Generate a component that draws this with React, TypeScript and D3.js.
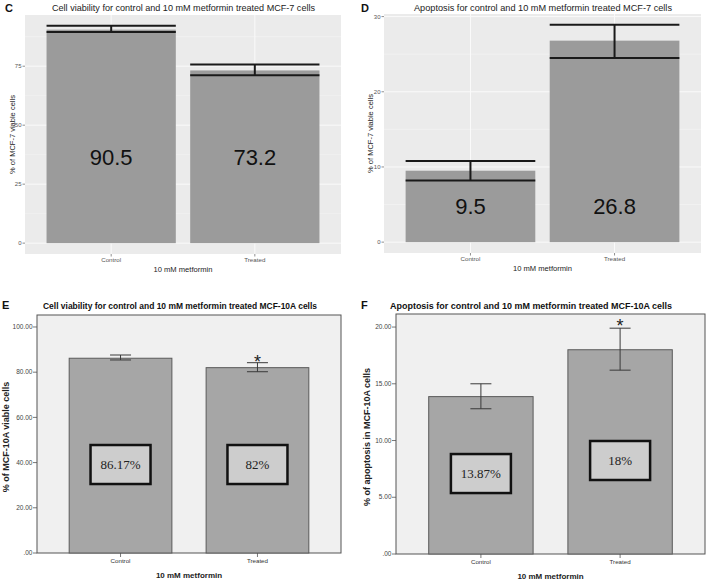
import React from "react";
import * as d3 from "d3";

const categories = ["Control", "Treated"];

// Panel C: cell viability MCF-7
const cValues = [90.5, 73.2];
const cErrLow = [89.5, 71.2];
const cErrHigh = [92.1, 75.7];
const cTicks = [0, 25, 50, 75];
const cTickLabels = ["0", "25", "50", "75"];
const cLabels = ["90.5", "73.2"];

// Panel D: apoptosis MCF-7
const dValues = [9.5, 26.8];
const dErrLow = [8.2, 24.5];
const dErrHigh = [10.8, 28.9];
const dTicks = [0, 10, 20, 30];
const dTickLabels = ["0", "10", "20", "30"];
const dLabels = ["9.5", "26.8"];

// Panel E: cell viability MCF-10A
const eValues = [86.17, 82];
const eErrLow = [85.4, 80.2];
const eErrHigh = [87.6, 84.2];
const eTicks = [0, 20, 40, 60, 80, 100];
const eTickLabels = [".00", "20.00", "40.00", "60.00", "80.00", "100.00"];
const eLabels = ["86.17%", "82%"];
const eSignificant = [false, true];

// Panel F: apoptosis MCF-10A
const fValues = [13.87, 18];
const fErrLow = [12.8, 16.2];
const fErrHigh = [15.0, 19.9];
const fTicks = [0, 5, 10, 15, 20];
const fTickLabels = [".00", "5.00", "10.00", "15.00", "20.00"];
const fLabels = ["13.87%", "18%"];
const fSignificant = [false, true];

const SANS = "'Liberation Sans', Arial, Helvetica, sans-serif";
const SERIF = "'Liberation Serif', 'Times New Roman', serif";

function GGPanel(p: any) {
  const x = d3.scaleBand<string>().domain(categories).range([p.x0, p.x1]).paddingInner(0.1).paddingOuter(0.15);
  const maxV = d3.max(p.errHigh as number[])!;
  const y = d3.scaleLinear().domain([-0.05 * maxV, 1.05 * maxV]).range([p.y1, p.y0]);
  const step = p.ticks[1] - p.ticks[0];
  const [dmin, dmax] = y.domain();
  const minor = d3.range(p.ticks[0] - step / 2, dmax, step).filter((v) => v > dmin);
  const bw = x.bandwidth();
  return (
    <g>
      <text x={p.letterX} y={12} fontFamily={SANS} fontWeight="bold" fontSize={11} fill="#111">{p.letter}</text>
      <text x={p.titleX} y={11} textAnchor="middle" fontFamily={SANS} fontSize={p.titleSize} fill="#222"
        textLength={p.titleLen} lengthAdjust="spacingAndGlyphs">{p.title}</text>
      <rect x={p.x0} y={p.y0} width={p.x1 - p.x0} height={p.y1 - p.y0} fill="#EBEBEB" />
      {minor.map((v) => (
        <line key={"mi" + v} x1={p.x0} x2={p.x1} y1={y(v)} y2={y(v)} stroke="#f6f6f6" strokeWidth={0.5} />
      ))}
      {p.ticks.map((v: number) => (
        <line key={"ma" + v} x1={p.x0} x2={p.x1} y1={y(v)} y2={y(v)} stroke="#fafafa" strokeWidth={1} />
      ))}
      {categories.map((c) => (
        <line key={"vg" + c} x1={x(c)! + bw / 2} x2={x(c)! + bw / 2} y1={p.y0} y2={p.y1} stroke="#fafafa" strokeWidth={1} />
      ))}
      {categories.map((c, i) => (
        <rect key={"b" + c} x={x(c)} y={y(p.values[i])} width={bw} height={y(0) - y(p.values[i])} fill="#9B9B9B" />
      ))}
      {categories.map((c, i) => {
        const cx = x(c)! + bw / 2;
        return (
          <g key={"e" + c} stroke="#1a1a1a" strokeWidth={2}>
            <line x1={x(c)} x2={x(c)! + bw} y1={y(p.errHigh[i])} y2={y(p.errHigh[i])} />
            <line x1={x(c)} x2={x(c)! + bw} y1={y(p.errLow[i])} y2={y(p.errLow[i])} />
            <line x1={cx} x2={cx} y1={y(p.errHigh[i])} y2={y(p.errLow[i])} />
          </g>
        );
      })}
      {categories.map((c, i) => (
        <text key={"l" + c} x={x(c)! + bw / 2} y={y(p.labelAt)} textAnchor="middle" fontFamily={SANS} fontSize={22} fill="#111">
          {p.labels[i]}
        </text>
      ))}
      {p.ticks.map((v: number, i: number) => (
        <g key={"yt" + v}>
          <line x1={p.x0 - 2.5} x2={p.x0} y1={y(v)} y2={y(v)} stroke="#444" strokeWidth={0.6} />
          <text x={p.x0 - 3.5} y={y(v) + 2} textAnchor="end" fontFamily={SANS} fontSize={6} fill="#555">{p.tickLabels[i]}</text>
        </g>
      ))}
      {categories.map((c) => (
        <g key={"xt" + c}>
          <line x1={x(c)! + bw / 2} x2={x(c)! + bw / 2} y1={p.y1} y2={p.y1 + 2.5} stroke="#444" strokeWidth={0.6} />
          <text x={x(c)! + bw / 2} y={p.y1 + 8} textAnchor="middle" fontFamily={SANS} fontSize={6.2} fill="#555">{c}</text>
        </g>
      ))}
      <text x={(p.x0 + p.x1) / 2} y={p.y1 + 18} textAnchor="middle" fontFamily={SANS} fontSize={7.6} fill="#222">{p.xTitle}</text>
      <text transform={`translate(${p.yTitleX},${(p.y0 + p.y1) / 2}) rotate(-90)`} textAnchor="middle" fontFamily={SANS} fontSize={7.5} fill="#222">
        {p.yTitle}
      </text>
    </g>
  );
}

function SpssPanel(p: any) {
  const x = d3.scaleBand<string>().domain(categories).range([p.x0, p.x1]).paddingInner(0.25).paddingOuter(0.235);
  const y = d3.scaleLinear().domain([0, p.yMax]).range([p.y1, p.y0]);
  const bw = x.bandwidth();
  const boxW = 60;
  const boxH = 39;
  const capW = 21;
  return (
    <g>
      <text x={p.letterX} y={p.titleY} fontFamily={SANS} fontWeight="bold" fontSize={11} fill="#111">{p.letter}</text>
      <text x={p.titleX} y={p.titleY} fontFamily={SANS} fontWeight="bold" fontSize={p.titleSize} fill="#111"
        textLength={p.titleLen} lengthAdjust="spacingAndGlyphs">{p.title}</text>
      <rect x={p.x0} y={p.y0} width={p.x1 - p.x0} height={p.y1 - p.y0} fill="#F0F0F0" stroke="#555" strokeWidth={1} />
      {categories.map((c, i) => (
        <rect key={"b" + c} x={x(c)} y={y(p.values[i])} width={bw} height={y(0) - y(p.values[i])} fill="#A6A6A6" stroke="#5a5a5a" strokeWidth={1} />
      ))}
      {categories.map((c, i) => {
        const cx = x(c)! + bw / 2;
        return (
          <g key={"e" + c} stroke="#3a3a3a" strokeWidth={1}>
            <line x1={cx - capW / 2} x2={cx + capW / 2} y1={y(p.errHigh[i])} y2={y(p.errHigh[i])} />
            <line x1={cx - capW / 2} x2={cx + capW / 2} y1={y(p.errLow[i])} y2={y(p.errLow[i])} />
            <line x1={cx} x2={cx} y1={y(p.errHigh[i])} y2={y(p.errLow[i])} />
          </g>
        );
      })}
      {categories.map((c, i) =>
        p.significant[i] ? (
          <text key={"s" + c} x={x(c)! + bw / 2} y={y(p.errHigh[i]) + p.starDy} textAnchor="middle" fontFamily={SANS} fontSize={18} fill="#222">*</text>
        ) : null
      )}
      {categories.map((c, i) => {
        const cx = x(c)! + bw / 2;
        const cy = y(p.boxAt[i]);
        return (
          <g key={"bx" + c}>
            <rect x={cx - boxW / 2} y={cy - boxH / 2} width={boxW} height={boxH} fill="#CDCDCD" stroke="#111" strokeWidth={2.5} />
            <text x={cx} y={cy + 4.5} textAnchor="middle" fontFamily={SERIF} fontSize={13} fill="#222">{p.labels[i]}</text>
          </g>
        );
      })}
      {p.ticks.map((v: number, i: number) => (
        <g key={"yt" + v}>
          <line x1={p.x0 - 4} x2={p.x0} y1={y(v)} y2={y(v)} stroke="#555" strokeWidth={0.8} />
          <text x={p.x0 - 4.5} y={y(v) + 2.2} textAnchor="end" fontFamily={SANS} fontSize={6.5} fill="#444">{p.tickLabels[i]}</text>
        </g>
      ))}
      {categories.map((c) => (
        <g key={"xt" + c}>
          <line x1={x(c)! + bw / 2} x2={x(c)! + bw / 2} y1={p.y1} y2={p.y1 + 4} stroke="#555" strokeWidth={0.8} />
          <text x={x(c)! + bw / 2} y={p.y1 + 10} textAnchor="middle" fontFamily={SANS} fontSize={6.2} fill="#333">{c}</text>
        </g>
      ))}
      <text x={(p.x0 + p.x1) / 2} y={p.y1 + 25} textAnchor="middle" fontFamily={SANS} fontWeight="bold" fontSize={8} fill="#222">{p.xTitle}</text>
      <text transform={`translate(${p.yTitleX},${(p.y0 + p.y1) / 2 + 3}) rotate(-90)`} textAnchor="middle" fontFamily={SANS} fontWeight="bold" fontSize={p.yTitleSize} fill="#222">
        {p.yTitle}
      </text>
    </g>
  );
}

export default function App() {
  return (
    <svg width={708} height={583} style={{ position: "absolute", left: 0, top: 0, background: "#fff" }}>
      <rect width={708} height={583} fill="#fff" />
      <GGPanel
        letter="C" letterX={5} title="Cell viability for control and 10 mM metformin treated MCF-7 cells" titleX={183.5} titleSize={9.8} titleLen={263}
        x0={25} x1={341} y0={15} y1={254}
        values={cValues} errLow={cErrLow} errHigh={cErrHigh} ticks={cTicks} tickLabels={cTickLabels}
        labels={cLabels} labelAt={33} xTitle="10 mM metformin" yTitle="% of MCF-7 viable cells" yTitleX={15}
      />
      <GGPanel
        letter="D" letterX={361} title="Apoptosis for control and 10 mM metformin treated MCF-7 cells" titleX={543} titleSize={9.8} titleLen={258}
        x0={384} x1={701} y0={14} y1={253}
        values={dValues} errLow={dErrLow} errHigh={dErrHigh} ticks={dTicks} tickLabels={dTickLabels}
        labels={dLabels} labelAt={3.7} xTitle="10 mM metformin" yTitle="% of MCF-7 viable cells" yTitleX={372.5}
      />
      <SpssPanel
        letter="E" letterX={2} titleX={43} titleY={309} titleSize={8.6} titleLen={274}
        title="Cell viability for control and 10 mM metformin treated MCF-10A cells"
        x0={37} x1={341} y0={315} y1={553} yMax={105.3}
        values={eValues} errLow={eErrLow} errHigh={eErrHigh} ticks={eTicks} tickLabels={eTickLabels}
        labels={eLabels} significant={eSignificant} boxAt={[39.15, 39.15]} starDy={5}
        xTitle="10 mM metformin" yTitle="% of MCF-10A viable cells" yTitleX={8.5} yTitleSize={9}
      />
      <SpssPanel
        letter="F" letterX={361} titleX={390} titleY={309} titleSize={9} titleLen={282}
        title="Apoptosis for control and 10 mM metformin treated MCF-10A cells"
        x0={396} x1={705} y0={314} y1={554} yMax={21.15}
        values={fValues} errLow={fErrLow} errHigh={fErrHigh} ticks={fTicks} tickLabels={fTickLabels}
        labels={fLabels} significant={fSignificant} boxAt={[7.09, 8.24]} starDy={4}
        xTitle="10 mM metformin" yTitle="% of apoptosis in MCF-10A cells" yTitleX={369.5} yTitleSize={9}
      />
    </svg>
  );
}
